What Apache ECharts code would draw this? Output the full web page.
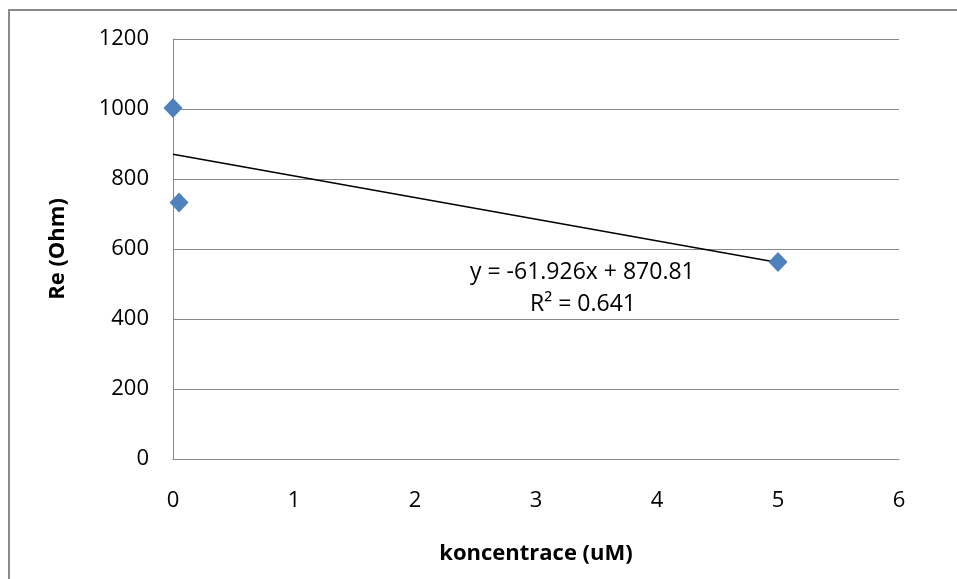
<!DOCTYPE html>
<html>
<head>
<meta charset="utf-8">
<script src="https://cdn.jsdelivr.net/npm/echarts@6/dist/echarts.min.js"></script>
<style>
  html, body { margin: 0; padding: 0; background: #fff; }
  #chart { width: 957px; height: 579px; }
</style>
</head>
<body>
<div id="chart"></div>
<script>
// measured points (koncentrace, Re)
const concX = [0, 0.05, 5];
const reY = [1003, 733, 563];
// linear trend as printed on the chart
const trendX = [0, 5];
const trendY = [870.81, 561.18];
const trendLabel = 'y = -61.926x + 870.81';
const r2Label = 'R² = 0.641';

const chart = echarts.init(document.getElementById('chart'));
const font = 'Open Sans';

chart.setOption({
  animation: false,
  grid: { left: 173, right: 58, top: 39, bottom: 120 },
  xAxis: {
    type: 'value',
    min: 0, max: 6, interval: 1,
    name: 'koncentrace (uM)',
    nameLocation: 'middle',
    nameGap: 84,
    nameTextStyle: { fontFamily: font, fontSize: 22, fontWeight: 'bold', color: '#000' },
    axisLine: { show: true, lineStyle: { color: '#888', width: 1 } },
    axisTick: { show: false },
    axisLabel: { fontFamily: font, fontSize: 22, color: '#000', margin: 31 },
    splitLine: { show: false }
  },
  yAxis: {
    type: 'value',
    min: 0, max: 1200, interval: 200,
    name: 'Re (Ohm)',
    nameLocation: 'middle',
    nameGap: 104,
    nameTextStyle: { fontFamily: font, fontSize: 22, fontWeight: 'bold', color: '#000' },
    axisLine: { show: true, lineStyle: { color: '#888', width: 1 } },
    axisTick: { show: false },
    axisLabel: { fontFamily: font, fontSize: 22, color: '#000', margin: 24, formatter: v => String(v) },
    splitLine: { show: true, lineStyle: { color: '#888', width: 1 } }
  },
  graphic: [
    {
      type: 'rect',
      shape: { x: 9, y: 10, width: 1000, height: 600 },
      style: { fill: 'none', stroke: '#8a8a8a', lineWidth: 2 },
      silent: true,
      z: -1
    },
    {
      type: 'text',
      left: 470, top: 261,
      style: { text: trendLabel, fontFamily: font, fontSize: 23, fill: '#000' }
    },
    {
      type: 'text',
      left: 530, top: 293,
      style: { text: r2Label, fontFamily: font, fontSize: 23, fill: '#000' }
    }
  ],
  series: [
    {
      type: 'line',
      data: trendX.map((x, i) => [x, trendY[i]]),
      showSymbol: false,
      lineStyle: { color: '#000', width: 1.5 },
      z: 2
    },
    {
      type: 'scatter',
      data: concX.map((x, i) => [x, reY[i]]),
      symbol: 'diamond',
      symbolSize: [19, 20],
      itemStyle: { color: '#4F81BD', opacity: 1 },
      z: 3
    }
  ]
});
</script>
</body>
</html>
